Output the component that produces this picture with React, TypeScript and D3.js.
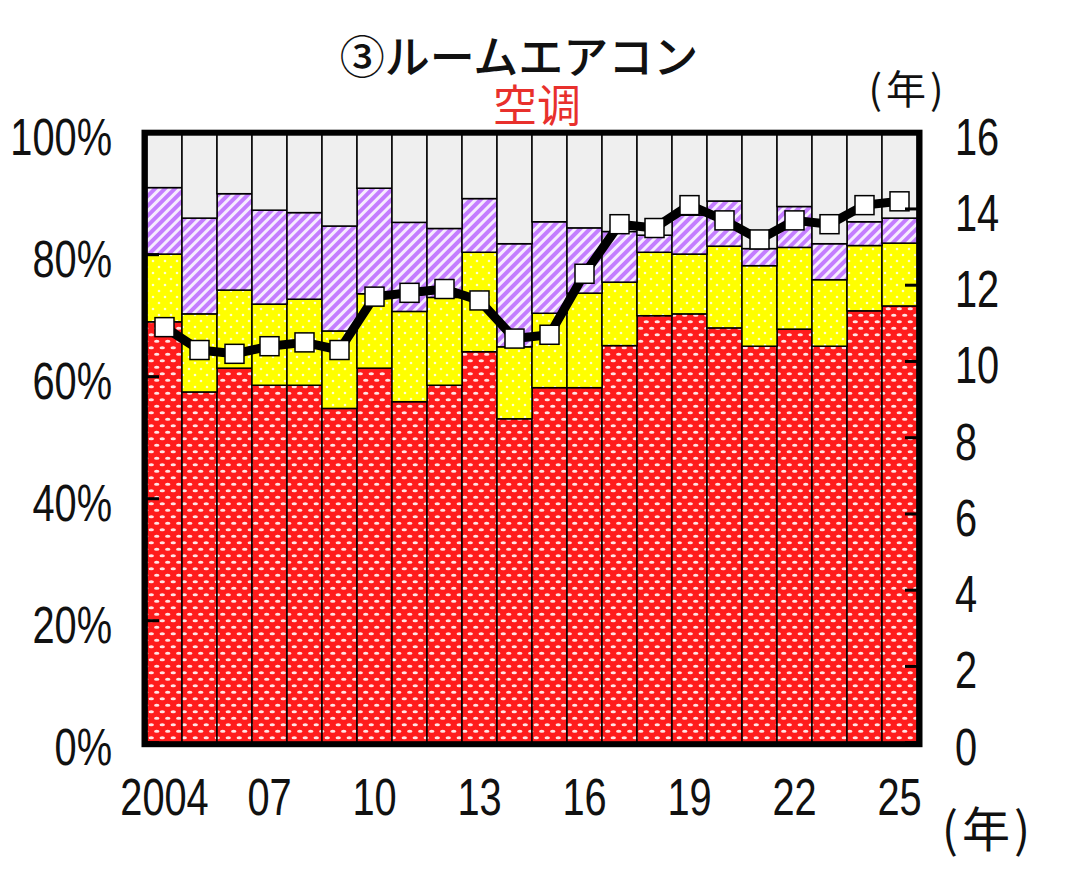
import React from "react";
import * as d3 from "d3";

// Survey years (2004–2025)
const years: number[] = [
  2004, 2005, 2006, 2007, 2008, 2009, 2010, 2011, 2012, 2013, 2014,
  2015, 2016, 2017, 2018, 2019, 2020, 2021, 2022, 2023, 2024, 2025,
];

// Shares (%) stacked from the bottom
const redShare: number[] = [
  69.0, 57.5, 61.4, 58.6, 58.6, 54.8, 61.4, 55.9, 58.6, 64.1, 53.1,
  58.2, 58.2, 65.1, 70.0, 70.3, 68.0, 65.0, 67.8, 65.0, 70.8, 71.6,
];
const yellowShare: number[] = [
  11.1, 12.8, 12.8, 13.3, 14.1, 12.7, 12.2, 14.8, 14.4, 16.3, 11.8,
  12.2, 15.5, 10.4, 10.4, 9.8, 13.4, 13.2, 13.4, 10.9, 10.7, 10.3,
];
const purpleShare: number[] = [
  10.9, 15.7, 15.8, 15.4, 14.2, 17.2, 17.3, 14.6, 11.3, 8.8, 16.9,
  15.0, 10.7, 8.3, 2.8, 6.4, 7.4, 2.8, 6.7, 5.9, 3.9, 4.1,
];

// Average years of use (right axis)
const avgYears: number[] = [
  10.9, 10.3, 10.2, 10.4, 10.5, 10.3, 11.7, 11.8, 11.9, 11.6, 10.6,
  10.7, 12.3, 13.6, 13.5, 14.1, 13.7, 13.2, 13.7, 13.6, 14.1, 14.2,
];

const leftTicks: number[] = [0, 20, 40, 60, 80, 100];
const rightTicks: number[] = [0, 2, 4, 6, 8, 10, 12, 14, 16];
const labelYears: number[] = [2004, 2007, 2010, 2013, 2016, 2019, 2022, 2025];

const keys = ["red", "yellow", "purple", "gray"] as const;
const fills: Record<string, string> = {
  red: "url(#patRed)",
  yellow: "url(#patYellow)",
  purple: "url(#patPurple)",
  gray: "#efefef",
};

const NUM_FONT = "'Liberation Sans', Arial, sans-serif";
const CJK_FONT = "'Noto Sans CJK JP', 'Noto Sans CJK SC', sans-serif";

// Narrow numeric label: horizontally condensed text
function NumText(props: { x: number; y: number; anchor: string; children: React.ReactNode }) {
  return (
    <text
      transform={`translate(${props.x},${props.y}) scale(0.78,1)`}
      textAnchor={props.anchor as any}
      fontFamily={NUM_FONT}
      fontSize={51}
      fill="#111"
    >
      {props.children}
    </text>
  );
}

export default function App() {
  const W = 1069;
  const H = 874;
  const left = 147;
  const right = 917;
  const top = 132.7;
  const bottom = 742.7;

  const x = d3.scaleBand<number>().domain(years).range([left, right]).padding(0);
  const yL = d3.scaleLinear().domain([0, 100]).range([bottom, top]);
  const yR = d3.scaleLinear().domain([0, 16]).range([bottom, top]);

  const rows = years.map((yr, i) => ({
    year: yr,
    red: redShare[i],
    yellow: yellowShare[i],
    purple: purpleShare[i],
    gray: Math.max(0, 100 - redShare[i] - yellowShare[i] - purpleShare[i]),
  }));
  const stacked = d3.stack<any>().keys(keys as unknown as string[])(rows);

  const line = d3
    .line<number>()
    .x((_, i) => (x(years[i]) as number) + x.bandwidth() / 2)
    .y((d) => yR(d));

  const mk = 19;

  return (
    <svg
      width={W}
      height={H}
      style={{ position: "absolute", left: 0, top: 0, background: "#fff" }}
    >
      <defs>
        <pattern id="patRed" width={11} height={13} patternUnits="userSpaceOnUse">
          <rect width={11} height={13} fill="#ff1c1c" />
          <ellipse cx={2.75} cy={3.25} rx={2.7} ry={1.5} fill="#ffe4e4" />
          <ellipse cx={8.25} cy={9.75} rx={2.7} ry={1.5} fill="#ffe4e4" />
        </pattern>
        <pattern id="patYellow" width={12} height={12} patternUnits="userSpaceOnUse">
          <rect width={12} height={12} fill="#ffff00" />
          <circle cx={3} cy={3} r={1.3} fill="#ffffd0" />
          <circle cx={9} cy={9} r={1.3} fill="#ffffd0" />
        </pattern>
        <pattern
          id="patPurple"
          width={7}
          height={7}
          patternUnits="userSpaceOnUse"
          patternTransform="rotate(45)"
        >
          <rect width={7} height={7} fill="#c47dff" />
          <rect width={3} height={7} fill="#f6ecff" />
        </pattern>
      </defs>

      {/* Stacked bars */}
      {stacked.map((layer) => (
        <g key={layer.key}>
          {layer.map((d, i) => (
            <rect
              key={i}
              x={x(years[i]) as number}
              y={yL(d[1])}
              width={x.bandwidth()}
              height={Math.max(0, yL(d[0]) - yL(d[1]))}
              fill={fills[layer.key]}
              stroke="#000"
              strokeWidth={1.5}
            />
          ))}
        </g>
      ))}

      {/* Average years line */}
      <path
        d={line(avgYears) || ""}
        fill="none"
        stroke="#000"
        strokeWidth={9}
        strokeLinejoin="round"
      />
      {avgYears.map((v, i) => (
        <rect
          key={i}
          x={(x(years[i]) as number) + x.bandwidth() / 2 - mk / 2}
          y={yR(v) - mk / 2}
          width={mk}
          height={mk}
          fill="#fff"
          stroke="#000"
          strokeWidth={1.5}
        />
      ))}

      {/* Inward ticks */}
      {leftTicks.map((t) => (
        <line key={"lt" + t} x1={left} x2={left + 12} y1={yL(t)} y2={yL(t)} stroke="#000" strokeWidth={3} />
      ))}
      {rightTicks.map((t) => (
        <line key={"rt" + t} x1={right - 12} x2={right} y1={yR(t)} y2={yR(t)} stroke="#000" strokeWidth={3} />
      ))}

      {/* Frame */}
      <rect
        x={left - 2.5}
        y={top}
        width={right - left + 5}
        height={bottom - top + 1.5}
        fill="none"
        stroke="#000"
        strokeWidth={6}
      />

      {/* Left axis labels */}
      {leftTicks.map((t) => (
        <NumText key={"ll" + t} x={112} y={yL(t) + 22} anchor="end">
          {t + "%"}
        </NumText>
      ))}

      {/* Right axis labels */}
      {rightTicks.map((t) => (
        <NumText key={"rl" + t} x={955} y={yR(t) + 22} anchor="start">
          {t}
        </NumText>
      ))}

      {/* X axis labels */}
      {labelYears.map((yr) => (
        <NumText key={"x" + yr} x={(x(yr) as number) + x.bandwidth() / 2} y={815} anchor="middle">
          {yr === 2004 ? "2004" : String(yr % 100).padStart(2, "0")}
        </NumText>
      ))}

      {/* Titles and units */}
      <text x={519} y={74} textAnchor="middle" fontFamily={CJK_FONT} fontSize={45} fontWeight={500} fill="#111">
        ③ルームエアコン
      </text>
      <text x={537} y={122} textAnchor="middle" fontFamily={CJK_FONT} fontSize={44} fill="#e8302c">
        空调
      </text>
      <text x={908} y={104} textAnchor="middle" fontFamily={CJK_FONT} fontSize={40} fill="#111" letterSpacing={4}>
        (年)
      </text>
      <text x={988} y={847} textAnchor="middle" fontFamily={CJK_FONT} fontSize={48} fill="#111" letterSpacing={4}>
        (年)
      </text>
    </svg>
  );
}
